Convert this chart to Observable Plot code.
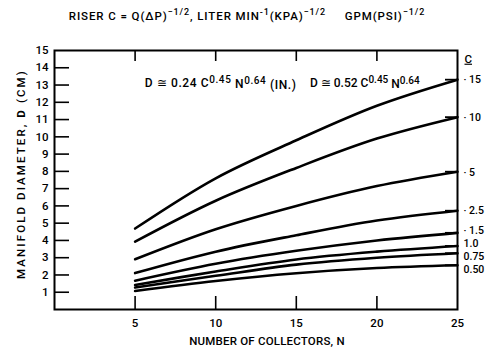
<!DOCTYPE html>
<html><head><meta charset="utf-8">
<script src="https://cdn.jsdelivr.net/npm/d3@7"></script>
<script src="https://cdn.jsdelivr.net/npm/@observablehq/plot@0.6"></script>
<style>
body{margin:0;background:#fff;font-family:Roboto,"Liberation Sans",Arial,sans-serif;}
#title{height:30px;width:494px;text-align:center;font-size:11.5px;font-weight:500;line-height:32px;color:#000;letter-spacing:0.9px;white-space:pre;}
#title sup{font-size:9px;vertical-align:5px;line-height:0;}
</style></head><body>
<div id="title">RISER C = Q(ΔP)<sup>−1/2</sup>, LITER MIN<sup>-1</sup>(KPA)<sup>−1/2</sup>     GPM(PSI)<sup>−1/2</sup></div>
<div id="chart"></div>
<script>
// Number of collectors N (x values)
const N = [5, 10, 15, 20, 25];
// Riser C values (curve labels)
const C = ["15", "10", "5", "2.5", "1.5", "1.0", "0.75", "0.50"];
// Manifold diameter D (cm) for each C, read at N = 5, 10, 15, 20, 25
const D_15   = [4.69, 7.60, 9.80, 11.80, 13.31];
const D_10   = [3.93, 6.30, 8.20,  9.90, 11.14];
const D_5    = [2.91, 4.65, 6.00,  7.15,  7.98];
const D_2_5  = [2.11, 3.35, 4.30,  5.15,  5.72];
const D_1_5  = [1.67, 2.65, 3.40,  4.00,  4.44];
const D_1_0  = [1.42, 2.20, 2.90,  3.35,  3.68];
const D_0_75 = [1.27, 1.95, 2.60,  3.00,  3.26];
const D_0_50 = [1.07, 1.65, 2.10,  2.40,  2.56];
// Label D levels for the right-hand C labels
const labelD = [13.3, 11.1, 7.95, 5.7, 4.57, 3.82, 3.07, 2.32];
// Axis ticks
const xTicks = [5, 10, 15, 20, 25];
const yTicks = [1,2,3,4,5,6,7,8,9,10,11,12,13,14,15];

const series = [D_15, D_10, D_5, D_2_5, D_1_5, D_1_0, D_0_75, D_0_50];
const rows = [];
series.forEach((s, i) => s.forEach((d, j) => rows.push({C: C[i], N: N[j], D: d})));
const ends = series.map((s, i) => ({C: C[i], D: s[s.length - 1]}));
const labels = C.map((c, i) => ({C: c, D: labelD[i]}));

const W = 494, H = 321, mt = 20, mb = 42, ml = 54, mr = 37;
const pw = W - ml - mr, ph = H - mt - mb;
const FW = 500;

const chart = Plot.plot({
  width: W, height: H,
  marginTop: mt, marginBottom: mb, marginLeft: ml, marginRight: mr,
  style: {fontFamily: "Roboto, 'Liberation Sans', Arial, sans-serif", fontSize: "11px", fontWeight: FW, color: "#000", background: "#fff"},
  x: {domain: [0, 25]},
  y: {domain: [0, 15]},
  marks: [
    Plot.tickY(yTicks.slice(0, 14), {y: d => d, insetRight: pw - 15, strokeWidth: 1.6, stroke: "#000"}),
    Plot.tickX(xTicks.slice(0, 4), {x: d => d, insetTop: ph - 13, strokeWidth: 1.6, stroke: "#000"}),
    Plot.tickX(xTicks.slice(0, 4), {x: d => d, insetBottom: ph - 11, strokeWidth: 1.6, stroke: "#000"}),
    Plot.line(rows, {x: "N", y: "D", z: "C", curve: "catmull-rom", stroke: "#000", strokeWidth: 2.6}),
    Plot.tickY(ends, {y: "D", insetLeft: pw - 12, strokeWidth: 1.8, stroke: "#000"}),
    Plot.text(labels, {y: "D", frameAnchor: "right", text: d => (parseFloat(d.C) >= 1.5 ? "· " : "") + d.C, textAnchor: "start", dx: 6, fontSize: 10.5, fontWeight: FW, fill: "#000"}),
    Plot.text(["C"], {frameAnchor: "top-right", text: d => d, textAnchor: "start", dx: 7, dy: 4, fontSize: 11.5, fontWeight: FW, fill: "#000", className: "cHead"}),
    Plot.text(["D ≅ 0.24 C^{0.45} N^{0.64} (IN.)"], {x: 5.6, y: 13.1, text: d => d, textAnchor: "start", fontSize: 12, fontWeight: FW, fill: "#000"}),
    Plot.text(["D ≅ 0.52 C^{0.45} N^{0.64}"], {x: 15.85, y: 13.1, text: d => d, textAnchor: "start", fontSize: 12, fontWeight: FW, fill: "#000"}),
    Plot.axisY(yTicks, {tickSize: 0, tickPadding: 6, label: "MANIFOLD DIAMETER, *{D} (CM)", labelAnchor: "center", labelOffset: 38, labelArrow: "none", fontSize: 11.5, fontWeight: FW}),
    Plot.axisX(xTicks, {tickSize: 0, tickPadding: 9, label: "NUMBER OF COLLECTORS, N", labelAnchor: "center", labelOffset: 35, labelArrow: "none", fontSize: 11.5, fontWeight: FW}),
    Plot.frame({stroke: "#000", strokeWidth: 2})
  ]
});
document.getElementById("chart").appendChild(chart);

// rich text: ^{...} superscript, *{...} bold
function rich(el, s) {
  const parts = s.split(/(\^\{[^}]*\}|\*\{[^}]*\})/).filter(p => p.length);
  el.textContent = "";
  let shifted = false;
  for (const p of parts) {
    const t = document.createElementNS("http://www.w3.org/2000/svg", "tspan");
    if (p.startsWith("^{")) {
      t.textContent = p.slice(2, -1);
      t.setAttribute("dy", "-0.45em");
      t.setAttribute("font-size", "10");
      shifted = true;
    } else if (p.startsWith("*{")) {
      t.textContent = p.slice(2, -1);
      t.setAttribute("font-weight", "bold");
      if (shifted) { t.setAttribute("dy", "0.45em"); shifted = false; }
    } else {
      t.textContent = p;
      if (shifted) { t.setAttribute("dy", "0.45em"); shifted = false; }
    }
    el.appendChild(t);
  }
}
chart.querySelectorAll("text").forEach(el => {
  if (el.children.length === 0 && /(\^\{|\*\{)/.test(el.textContent)) rich(el, el.textContent);
});
chart.querySelectorAll("text").forEach(el => {
  const s = el.textContent;
  if (s.includes("DIAMETER")) { el.setAttribute("letter-spacing", "2.1"); el.setAttribute("dx", "6"); }
  if (s.includes("COLLECTORS")) {
    el.setAttribute("letter-spacing", "0.2");
    el.setAttribute("transform", (el.getAttribute("transform") || "") + " translate(11,0)");
  }
  if (s.includes("(IN.)")) { el.setAttribute("letter-spacing", "0.6"); }
});
chart.querySelectorAll(".cHead text, g.cHead text").forEach(el => el.setAttribute("text-decoration", "underline"));
</script>
</body></html>
